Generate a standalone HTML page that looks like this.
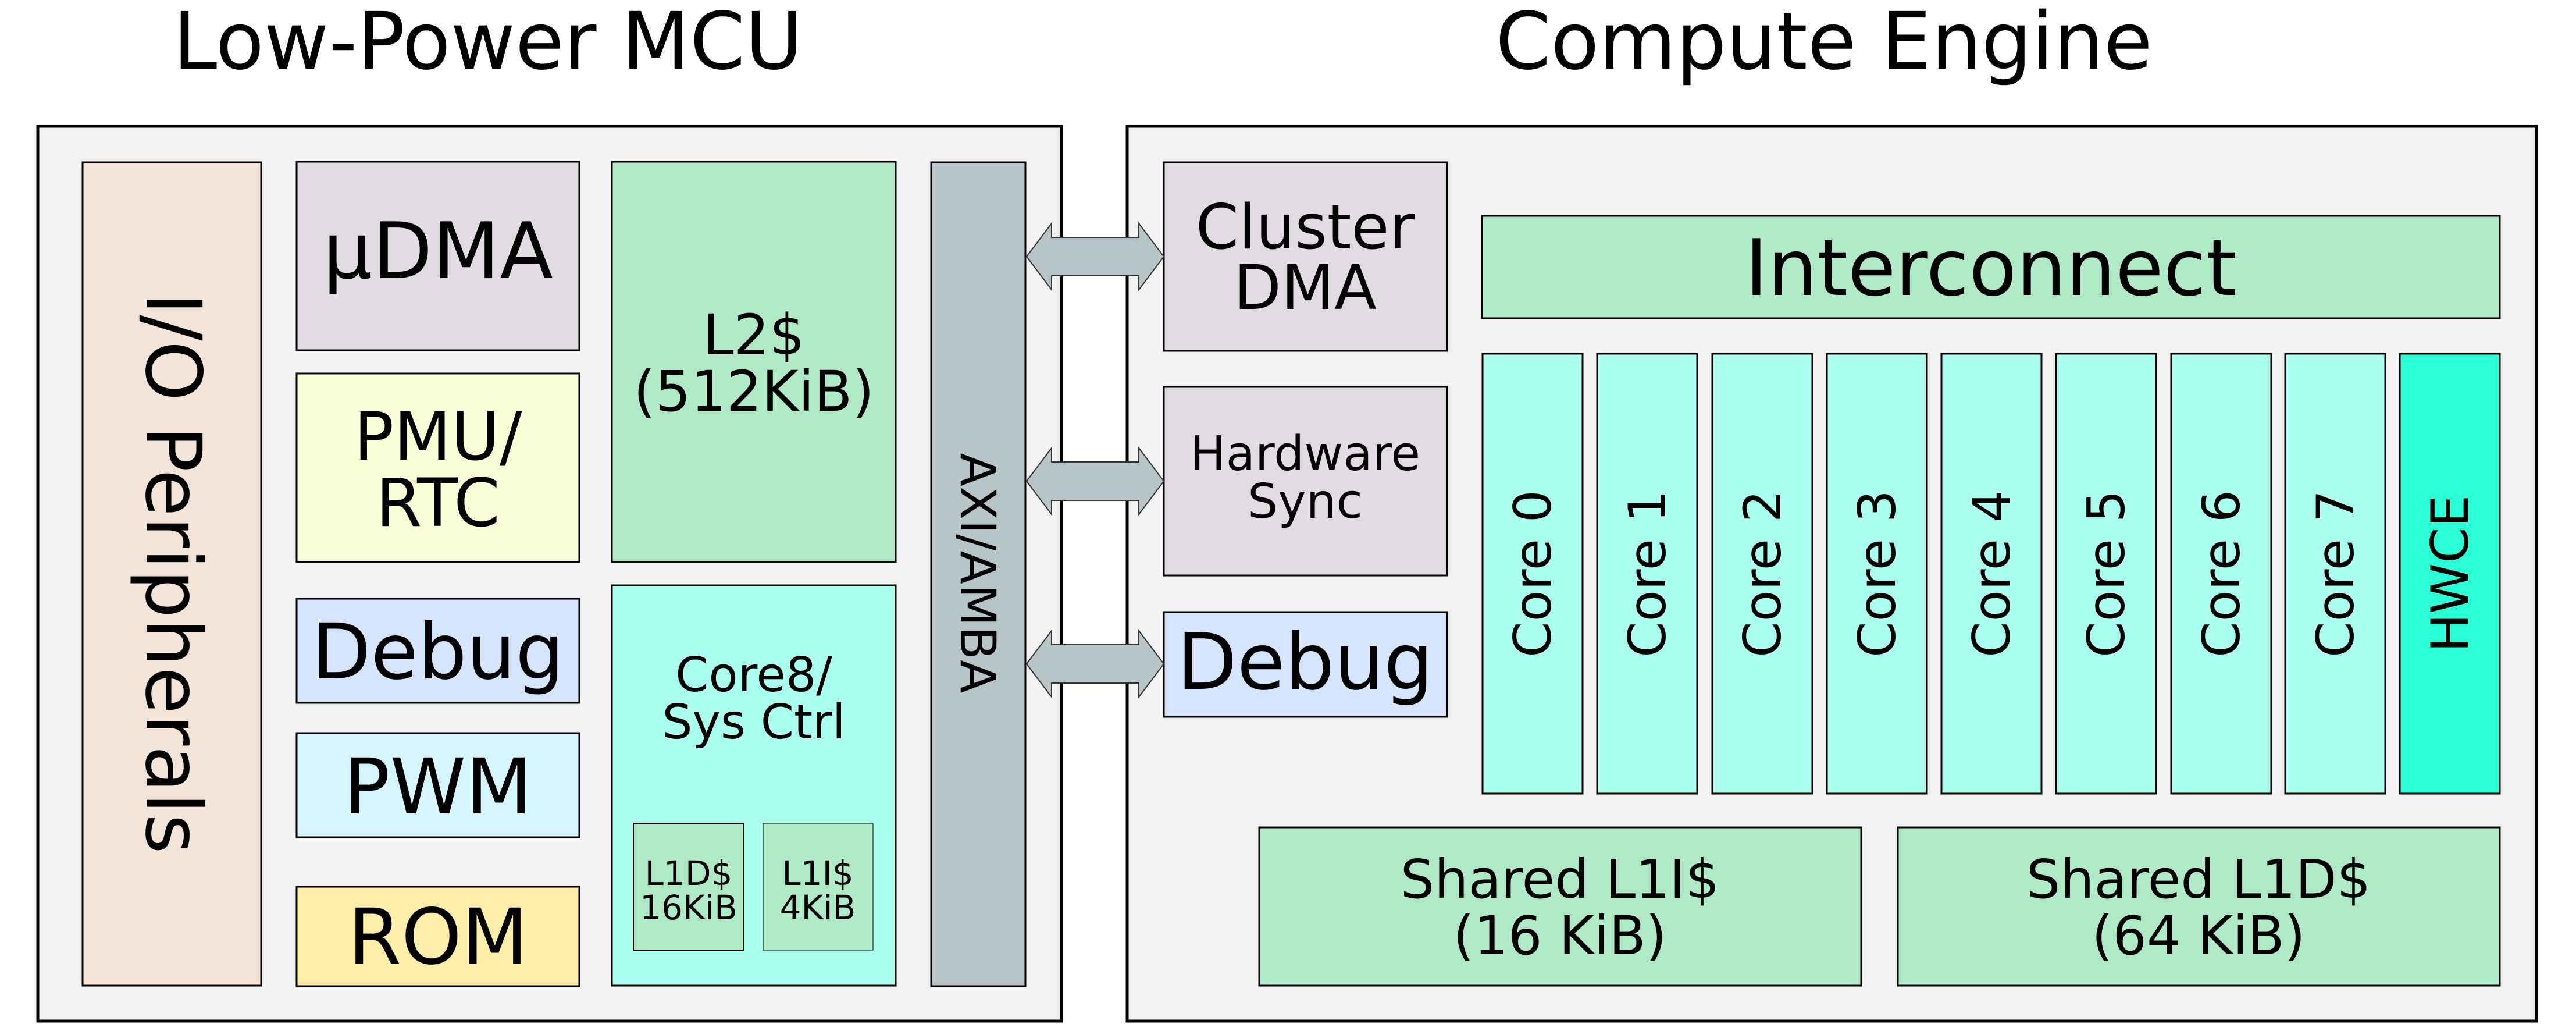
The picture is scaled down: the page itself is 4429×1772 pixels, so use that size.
<!DOCTYPE html>
<html><head><meta charset="utf-8"><style>html,body{margin:0;padding:0;background:#fff}svg{display:block}</style></head>
<body>
<svg width="4429" height="1772" viewBox="0 0 4429 1772" xmlns="http://www.w3.org/2000/svg" font-family="'DejaVu Sans','Liberation Sans',sans-serif" text-anchor="middle">
<text x="839" y="118" font-size="136">Low-Power MCU</text>
<text x="3136" y="118" font-size="136">Compute Engine</text>
<g stroke="#000" stroke-width="5" fill="#f2f2f2">
<rect x="65" y="217" width="1760" height="1538"/>
<rect x="1938" y="217" width="2423" height="1538"/>
</g>
<g stroke="#000" stroke-width="3">
<rect x="142" y="279" width="307" height="1415" fill="#f4e3d7"/>
<rect x="510" y="278" width="486" height="324" fill="#e3dbe3"/>
<rect x="510" y="642" width="486" height="324" fill="#f6ffd5"/>
<rect x="510" y="1029" width="486" height="179" fill="#d5e5ff"/>
<rect x="510" y="1260" width="486" height="179" fill="#d5f6ff"/>
<rect x="510" y="1524" width="486" height="171" fill="#ffeeaa"/>
<rect x="1052" y="278" width="488" height="688" fill="#afe9c6"/>
<rect x="1052" y="1006" width="488" height="688" fill="#aaffee"/>
<rect x="1089" y="1415" width="190" height="218" fill="#afe9c6" stroke-width="2"/>
<rect x="1312" y="1415" width="189" height="218" fill="#afe9c6" stroke-width="1"/>
<rect x="1601" y="279" width="162" height="1416" fill="#b7c4c8"/>
<rect x="2001" y="279" width="487" height="324" fill="#e3dbe3"/>
<rect x="2001" y="665" width="487" height="324" fill="#e3dbe3"/>
<rect x="2001" y="1052" width="487" height="180" fill="#d5e5ff"/>
<rect x="2548" y="371" width="1750" height="176" fill="#afe9c6"/>
<rect x="2549" y="608" width="172" height="756" fill="#aaffee"/>
<rect x="2746" y="608" width="172" height="756" fill="#aaffee"/>
<rect x="2944" y="608" width="172" height="756" fill="#aaffee"/>
<rect x="3141" y="608" width="172" height="756" fill="#aaffee"/>
<rect x="3338" y="608" width="172" height="756" fill="#aaffee"/>
<rect x="3535" y="608" width="172" height="756" fill="#aaffee"/>
<rect x="3733" y="608" width="172" height="756" fill="#aaffee"/>
<rect x="3929" y="608" width="172" height="756" fill="#aaffee"/>
<rect x="4126" y="608" width="172" height="756" fill="#2affd5"/>
<rect x="2165" y="1422" width="1035" height="272" fill="#afe9c6"/>
<rect x="3263" y="1422" width="1035" height="272" fill="#afe9c6"/>
</g>
<g fill="#b7c4c8" stroke="#333" stroke-width="2">
<polygon points="1765,441 1808,384 1808,408 1958,408 1958,384 2001,441 1958,498 1958,474 1808,474 1808,498"/>
<polygon points="1765,827 1808,770 1808,794 1958,794 1958,770 2001,827 1958,884 1958,860 1808,860 1808,884"/>
<polygon points="1765,1141 1808,1084 1808,1108 1958,1108 1958,1084 2001,1141 1958,1198 1958,1174 1808,1174 1808,1198"/>
</g>
<text transform="translate(298,985) rotate(90)" y="46" font-size="132">I/O Peripherals</text>
<text x="753" y="478" font-size="134">µDMA</text>
<text x="753" y="790" font-size="114">PMU/</text>
<text x="753" y="904" font-size="114">RTC</text>
<text x="753" y="1166" font-size="132">Debug</text>
<text x="753" y="1398" font-size="132">PWM</text>
<text x="753" y="1656" font-size="132">ROM</text>
<text x="1296" y="609" font-size="96">L2$</text>
<text x="1296" y="706" font-size="96">(512KiB)</text>
<text x="1296" y="1188" font-size="82">Core8/</text>
<text x="1296" y="1269" font-size="82">Sys Ctrl</text>
<text x="1184" y="1521" font-size="58">L1D$</text>
<text x="1184" y="1580" font-size="58">16KiB</text>
<text x="1406" y="1521" font-size="58">L1I$</text>
<text x="1406" y="1580" font-size="58">4KiB</text>
<text transform="translate(1682,985) rotate(90)" y="30" font-size="84">AXI/AMBA</text>
<text x="2244" y="427" font-size="106">Cluster</text>
<text x="2244" y="531" font-size="106">DMA</text>
<text x="2244" y="808" font-size="82">Hardware</text>
<text x="2244" y="890" font-size="82">Sync</text>
<text x="2244" y="1184" font-size="134">Debug</text>
<text x="3423" y="507" font-size="134">Interconnect</text>
<g font-size="88">
<text transform="translate(2635,986) rotate(-90)" y="31">Core 0</text>
<text transform="translate(2832,986) rotate(-90)" y="31">Core 1</text>
<text transform="translate(3030,986) rotate(-90)" y="31">Core 2</text>
<text transform="translate(3227,986) rotate(-90)" y="31">Core 3</text>
<text transform="translate(3424,986) rotate(-90)" y="31">Core 4</text>
<text transform="translate(3621,986) rotate(-90)" y="31">Core 5</text>
<text transform="translate(3819,986) rotate(-90)" y="31">Core 6</text>
<text transform="translate(4015,986) rotate(-90)" y="31">Core 7</text>
<text transform="translate(4212,986) rotate(-90)" y="31">HWCE</text>
</g>
<text x="2682" y="1543" font-size="92">Shared L1I$</text>
<text x="2682" y="1640" font-size="92">(16 KiB)</text>
<text x="3780" y="1543" font-size="92">Shared L1D$</text>
<text x="3780" y="1640" font-size="92">(64 KiB)</text>
</svg>
</body></html>
